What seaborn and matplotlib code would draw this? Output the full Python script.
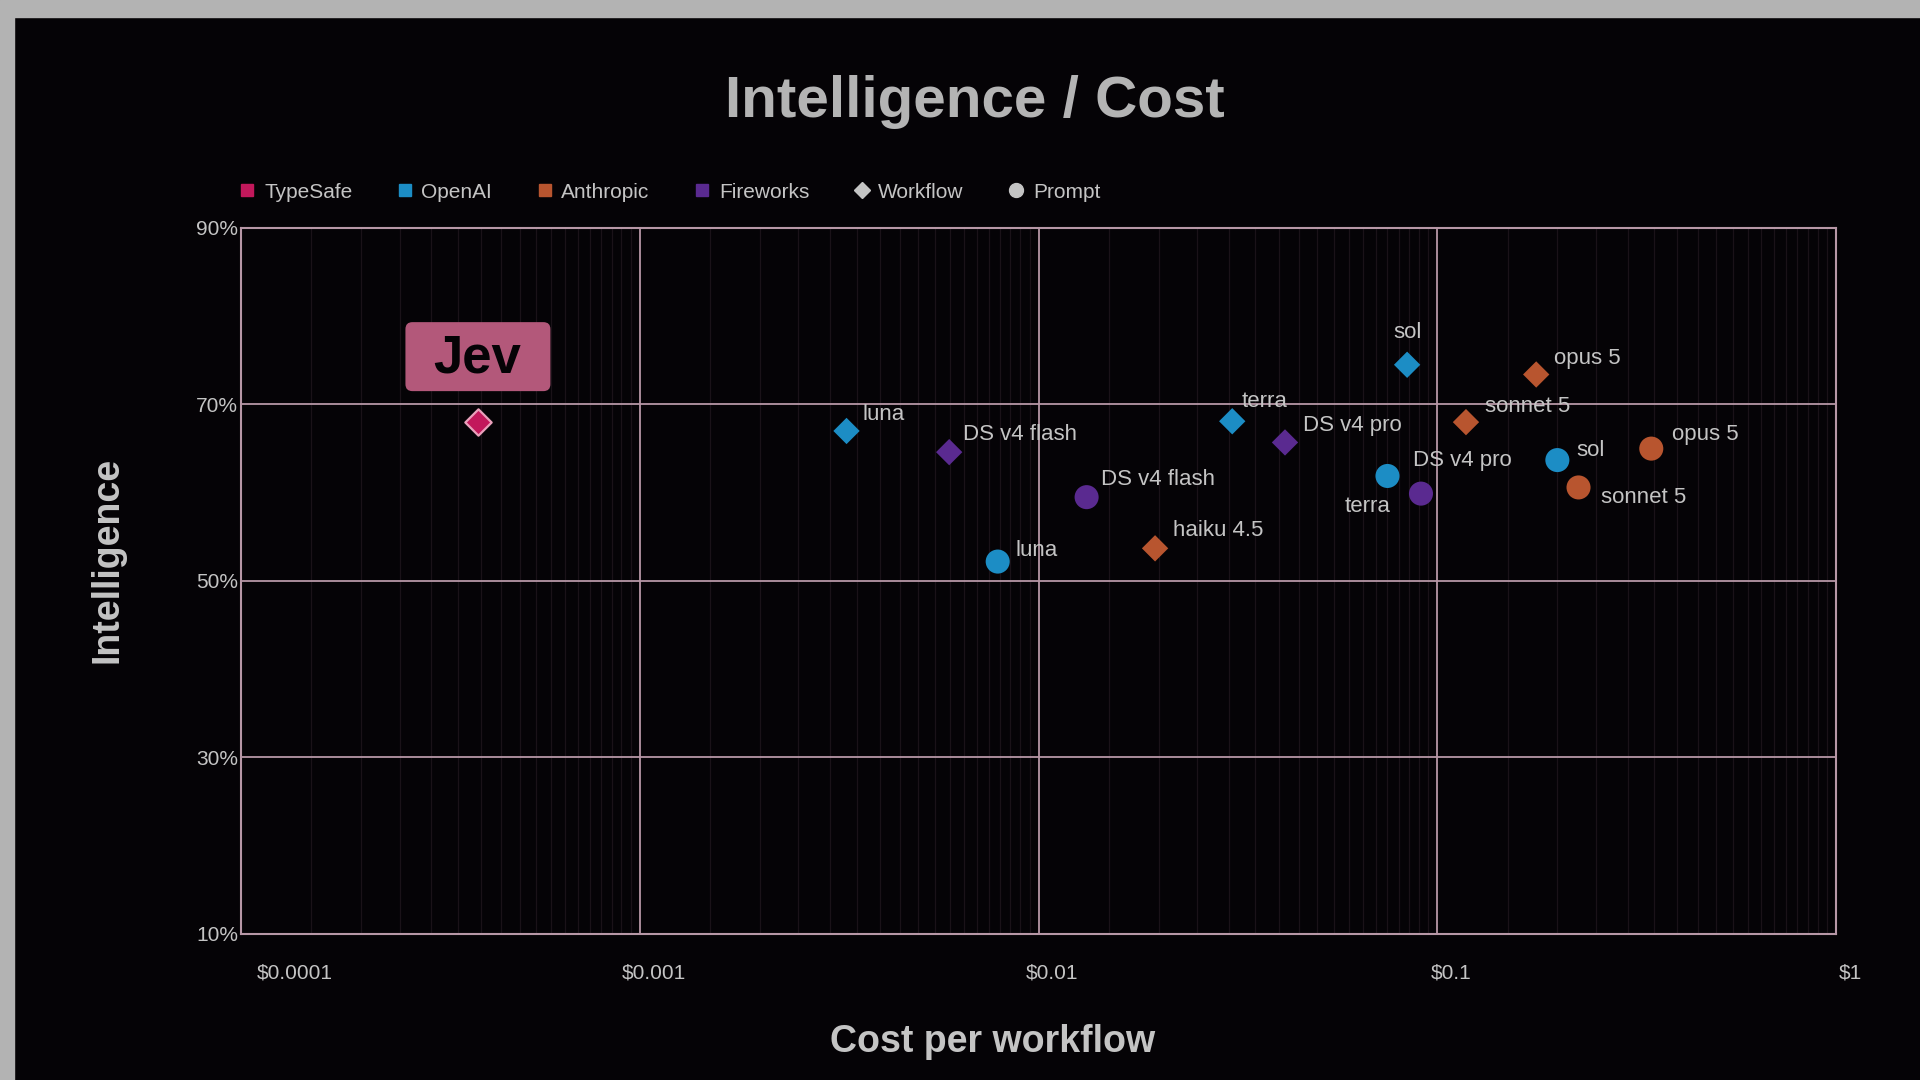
import numpy as np
import pandas as pd
import seaborn as sns
import matplotlib.pyplot as plt
import matplotlib.transforms as mtransforms
from matplotlib.patches import FancyBboxPatch, Rectangle
from matplotlib.lines import Line2D
from matplotlib.ticker import LogLocator, NullFormatter

# ~~~~~~~~ Data ~~~~~~~~
models = ["Jev", "luna", "luna", "terra", "terra", "sol", "sol",
          "haiku 4.5", "sonnet 5", "opus 5", "sonnet 5", "opus 5",
          "DS v4 flash", "DS v4 flash", "DS v4 pro", "DS v4 pro"]
providers = ["TypeSafe", "OpenAI", "OpenAI", "OpenAI", "OpenAI", "OpenAI", "OpenAI",
             "Anthropic", "Anthropic", "Anthropic", "Anthropic", "Anthropic",
             "Fireworks", "Fireworks", "Fireworks", "Fireworks"]
kinds = ["Workflow", "Workflow", "Prompt", "Workflow", "Prompt", "Workflow", "Prompt",
         "Workflow", "Workflow", "Workflow", "Prompt", "Prompt",
         "Workflow", "Prompt", "Workflow", "Prompt"]
cost = [0.000394, 0.0033, 0.0079, 0.0306, 0.075, 0.084, 0.20,
        0.0196, 0.118, 0.177, 0.226, 0.344,
        0.00597, 0.0132, 0.0415, 0.091]
intelligence = [68.0, 67.0, 52.2, 68.1, 61.9, 74.5, 63.7,
                53.7, 68.0, 73.4, 60.6, 65.0,
                64.6, 59.5, 65.7, 59.9]

provider_order = ["TypeSafe", "OpenAI", "Anthropic", "Fireworks"]
kind_order = ["Workflow", "Prompt"]
x_ticks = [0.0001, 0.001, 0.01, 0.1, 1]
x_ticklabels = ["$0.0001", "$0.001", "$0.01", "$0.1", "$1"]
y_ticks = [10, 30, 50, 70, 90]
y_ticklabels = ["10%", "30%", "50%", "70%", "90%"]

# label offsets (points) and alignment per point, same order as data
label_offsets = [None, (11.5, 11.5), (13, 8), (7, 14), (-14, -22), (0, 23), (14, 7),
                 (13, 12.5), (14, 11.5), (12.5, 11.5), (16, -7), (15, 10),
                 (10, 13), (10.5, 13), (13, 12.5), (-6, 24)]
label_ha = ["left", "left", "left", "left", "center", "center", "left",
            "left", "left", "left", "left", "left",
            "left", "left", "left", "left"]

df = pd.DataFrame({"model": models, "provider": providers, "type": kinds,
                   "cost": cost, "intelligence": intelligence})

# ~~~~~~~~ Style ~~~~~~~~
BG = "#050306"
GRID = "#b797a6"
TEXT = "#c4c4c4"
palette = {"TypeSafe": "#c2185b", "OpenAI": "#1c8dc5",
           "Anthropic": "#b8552f", "Fireworks": "#5a2a90"}

sns.set_theme(style="dark")
plt.rcParams["font.family"] = ["Liberation Sans", "DejaVu Sans"]
plt.rcParams["axes.facecolor"] = BG
plt.rcParams["figure.facecolor"] = BG

fig = plt.figure(figsize=(19.2, 10.8), dpi=100)
ax = fig.add_axes([0.1255, 0.1352, 0.9563 - 0.1255, 0.7889 - 0.1352])

# screenshot frame
fig.patches.append(Rectangle((0, 1 - 17 / 1080), 1, 17 / 1080, transform=fig.transFigure,
                             color="#b3b3b3", zorder=-1))
fig.patches.append(Rectangle((0, 0), 14 / 1920, 1, transform=fig.transFigure,
                             color="#b3b3b3", zorder=-1))

# ~~~~~~~~ Plot ~~~~~~~~
others = df[df["provider"] != "TypeSafe"]
sns.scatterplot(data=others, x="cost", y="intelligence", hue="provider", style="type",
                size="type", sizes={"Workflow": 180, "Prompt": 300},
                markers={"Workflow": "D", "Prompt": "o"}, palette=palette,
                linewidth=0, legend=False, ax=ax, zorder=3)
sns.scatterplot(data=df[df["provider"] == "TypeSafe"], x="cost", y="intelligence",
                color=palette["TypeSafe"], marker="D", s=180, edgecolor="#eaa0bb",
                linewidth=1.6, legend=False, ax=ax, zorder=4)

ax.set_xscale("log")
ax.set_xlim(0.0001, 1)
ax.set_ylim(10, 90)

for i, row in df.iterrows():
    off = label_offsets[i]
    if off is None:
        continue
    ax.annotate(row["model"], (row["cost"], row["intelligence"]), xytext=off,
                textcoords="offset points", ha=label_ha[i], va="center",
                fontsize=16, color=TEXT, zorder=5)

# Jev badge
jev = df[df["model"] == "Jev"].iloc[0]
badge_tr = fig.dpi_scale_trans + mtransforms.ScaledTranslation(jev["cost"], jev["intelligence"], ax.transData)
ax.add_patch(FancyBboxPatch((-0.73, 0.31), 1.45, 0.69, boxstyle="round,pad=0,rounding_size=0.07",
                            transform=badge_tr, facecolor="#b3587a", edgecolor="none",
                            zorder=6, clip_on=False))
ax.annotate("Jev", (jev["cost"], jev["intelligence"]), xytext=(-1, 46),
            textcoords="offset points", ha="center", va="center",
            fontsize=38, fontweight="bold", color="#050306", zorder=7)

# Axes and grid
ax.set_xticks(x_ticks)
ax.set_xticklabels(x_ticklabels)
ax.xaxis.set_minor_locator(LogLocator(base=10, subs=np.arange(1.5, 10, 0.5), numticks=50))
ax.xaxis.set_minor_formatter(NullFormatter())
ax.set_yticks(y_ticks)
ax.set_yticklabels(y_ticklabels)
ax.grid(which="major", color=GRID, linewidth=1.3)
ax.grid(which="minor", axis="x", color="#1a1218", linewidth=0.9)
ax.tick_params(axis="both", which="both", length=0, colors=TEXT, labelsize=15)
ax.tick_params(axis="x", pad=21)
ax.tick_params(axis="y", pad=2)
for sp in ax.spines.values():
    sp.set_visible(True)
    sp.set_color(GRID)
    sp.set_linewidth(1.5)
ax.set_xlabel("")
ax.set_ylabel("")

for j, lab in enumerate(ax.get_xticklabels()):
    if j == 0:
        lab.set_horizontalalignment("left")
        lab.set_transform(lab.get_transform() + mtransforms.ScaledTranslation(16 / 100, 0, fig.dpi_scale_trans))
    else:
        lab.set_transform(lab.get_transform() + mtransforms.ScaledTranslation(14 / 100, 0, fig.dpi_scale_trans))

fig.text(0.508, 0.906, "Intelligence / Cost", ha="center", va="center",
         fontsize=42, fontweight="bold", color="#b4b4b4")
fig.text(0.056, 0.4815, "Intelligence", ha="center", va="center", rotation=90,
         fontsize=27, fontweight="bold", color=TEXT)
fig.text(0.517, 0.035, "Cost per workflow", ha="center", va="center",
         fontsize=27, fontweight="bold", color=TEXT)

# Legend
handles = [Line2D([], [], marker="s", linestyle="", markersize=9, color=palette[p], label=p)
           for p in provider_order]
handles += [Line2D([], [], marker="D", linestyle="", markersize=8, color=TEXT, label="Workflow"),
            Line2D([], [], marker="o", linestyle="", markersize=10, color=TEXT, label="Prompt")]
fig.legend(handles=handles, loc="center left", bbox_to_anchor=(0.1245, 0.822), ncol=6,
           frameon=False, fontsize=15, labelcolor=TEXT, handlelength=0.8,
           handletextpad=0.4, columnspacing=2.12, borderpad=0, borderaxespad=0)

plt.savefig("out.png", dpi=100, facecolor=BG)
